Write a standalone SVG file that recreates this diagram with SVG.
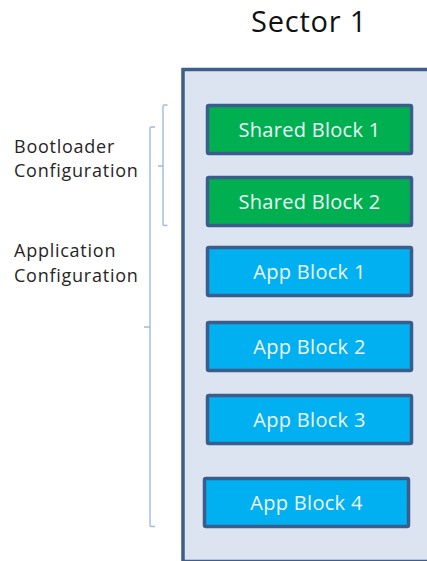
<svg xmlns="http://www.w3.org/2000/svg" width="427" height="561" viewBox="0 0 427 561">
<style>
  .lbl { font-family: "Open Sans", "Liberation Sans", sans-serif; font-size: 18px; letter-spacing: 0.75px; fill: #262626; }
  .title { font-family: "Open Sans", "Liberation Sans", sans-serif; font-size: 29px; letter-spacing: 0.8px; fill: #111111; }
  .blk { stroke: #3a5d8c; stroke-width: 3.5; }
  .green { fill: #00b050; }
  .blue { fill: #00b0f0; }
  .btxt { font-family: "Open Sans", "Liberation Sans", sans-serif; font-size: 20px; letter-spacing: 0.3px; fill: #eef6fb; text-anchor: middle; }
  .brace { fill: none; stroke: #9dbbe0; stroke-width: 1.4; }
</style>
<rect width="427" height="561" fill="#ffffff"/>
<text class="title" x="251" y="32">Sector 1</text>
<g id="sector">
  <rect x="183" y="69.5" width="260" height="492" fill="#dce4f1" stroke="#3e5f8c" stroke-width="3.5"/>
</g>
<g id="labels">
  <text class="lbl" x="14" y="153">Bootloader</text>
  <text class="lbl" x="14" y="177">Configuration</text>
  <text class="lbl" x="14" y="257">Application</text>
  <text class="lbl" x="14" y="282">Configuration</text>
</g>
<g id="connectors">
  <path class="brace" d="M167.5,105 H164.5 Q163,105 163,106.5 V166 H158 M163,166 V224 Q163,225.5 164.5,225.5 H167.5"/>
  <path class="brace" d="M155,127 H151.5 Q150,127 150,128.5 V327 H144 M150,327 V525 Q150,526.5 151.5,526.5 H155"/>
</g>
<g id="shared1">
  <rect class="blk green" x="207.5" y="105.5" width="204" height="48" rx="1.5"/>
  <text class="btxt" x="309.5" y="136.5">Shared Block 1</text>
</g>
<g id="shared2">
  <rect class="blk green" x="207.5" y="177.5" width="204" height="48" rx="1.5"/>
  <text class="btxt" x="309.5" y="208.5">Shared Block 2</text>
</g>
<g id="app1">
  <rect class="blk blue" x="207.5" y="247.5" width="204" height="48" rx="1.5"/>
  <text class="btxt" x="309.5" y="278.5">App Block 1</text>
</g>
<g id="app2">
  <rect class="blk blue" x="207.5" y="322.5" width="204" height="48" rx="1.5"/>
  <text class="btxt" x="309.5" y="353.5">App Block 2</text>
</g>
<g id="app3">
  <rect class="blk blue" x="207.5" y="395.5" width="204" height="48" rx="1.5"/>
  <text class="btxt" x="309.5" y="426.5">App Block 3</text>
</g>
<g id="app4">
  <rect class="blk blue" x="204.5" y="478.5" width="204" height="48" rx="1.5"/>
  <text class="btxt" x="306.5" y="509.5">App Block 4</text>
</g>
</svg>
